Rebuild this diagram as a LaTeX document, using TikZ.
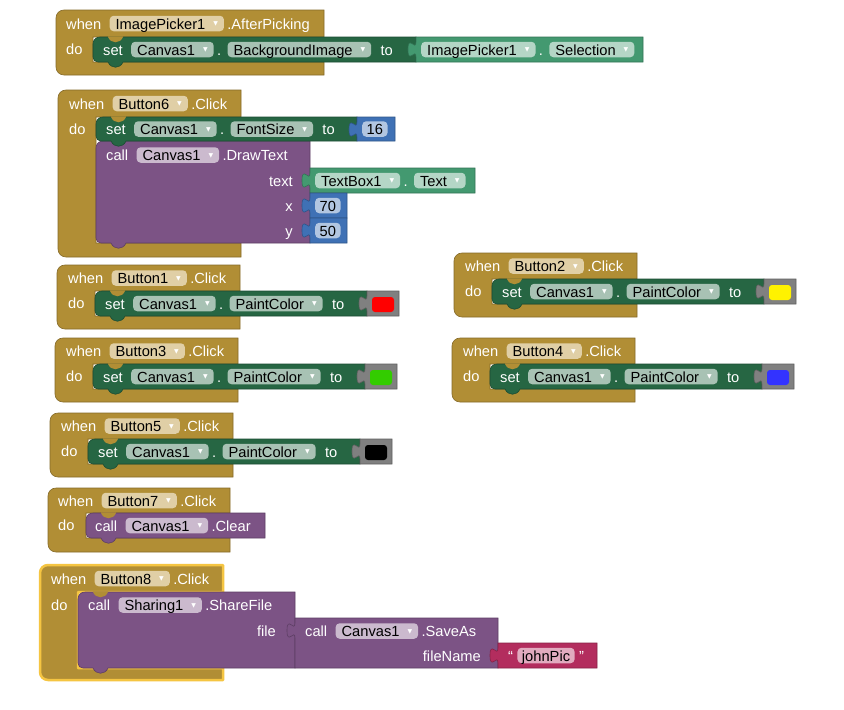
\documentclass[tikz,border=0pt]{standalone}
\usepackage{fontspec}
\setmainfont{Liberation Sans}
\newfontfamily\dejavu{DejaVu Sans}
\usetikzlibrary{positioning}
\definecolor{evc}{HTML}{B18E35}
\definecolor{evf}{HTML}{E0CFA6}
\definecolor{stc}{HTML}{266643}
\definecolor{stf}{HTML}{A8C2B4}
\definecolor{getc}{HTML}{439970}
\definecolor{getf}{HTML}{B4D6C6}
\definecolor{clc}{HTML}{7C5385}
\definecolor{clf}{HTML}{CBBACE}
\definecolor{mathc}{HTML}{3F71B5}
\definecolor{mathf}{HTML}{B2C6E1}
\definecolor{txc}{HTML}{B32D5E}
\definecolor{txf}{HTML}{E1ABBF}
\definecolor{colc}{HTML}{808080}
\definecolor{selc}{HTML}{F5C542}
\definecolor{swgreen}{HTML}{33CC00}
\definecolor{swblue}{HTML}{3333FF}
\newcommand\bfnt{\fontsize{14.67pt}{17pt}\selectfont}
\newcommand\ddarrow{\hspace{8pt}\raisebox{3.2pt}{\dejavu\fontsize{6pt}{6pt}\selectfont\textcolor{white}{▼}}\hspace{3pt}}
% event block: [extra] ex ey xr bt bb bot ix color
\newcommand\evshape[9][]{%
 \path[fill=#9,draw=#9!75!black,line width=0.6pt,#1] (#2,#3+8) .. controls (#2,#3+3.5) and (#2+3.5,#3) .. (#2+8,#3) -- (#4,#3) -- (#4,#5) -- (#8,#5) -- (#8,#6) -- (#4,#6) -- (#4,#7) -- (#2+8,#7) .. controls (#2+3.5,#7) and (#2,#7-3.5) .. (#2,#7-8) -- cycle;}
\newcommand\tabdown[3]{%
 \fill[#3] (#1+15,#2-0.7) -- (#1+15,#2) .. controls (#1+18,#2+7) and (#1+27,#2+7) .. (#1+30,#2) -- (#1+30,#2-0.7) -- cycle;}
% statement block: x y xr yb color
\newcommand\stshape[5]{%
 \path[fill=#5,draw=#5!75!black,line width=0.6pt] (#1,#2+7) .. controls (#1,#2+3) and (#1+3,#2) .. (#1+7,#2) -- (#3,#2) -- (#3,#4) -- (#1+30,#4) .. controls (#1+27,#4+7) and (#1+18,#4+7) .. (#1+15,#4) -- (#1+5,#4) .. controls (#1+2,#4) and (#1,#4-2) .. (#1,#4-5) -- cycle;}
% value block: x y xr yb color
\newcommand\valshape[5]{%
 \path[fill=#5,draw=#5!75!black,line width=0.6pt] (#1,#2) -- (#3,#2) -- (#3,#4) -- (#1,#4) -- (#1,#2+20) .. controls (#1,#2+10) and (#1-8,#2+28) .. (#1-8,#2+12.5) .. controls (#1-8,#2-3) and (#1,#2+15) .. (#1,#2+5) -- cycle;}
\tikzset{
 base/.style={inner sep=0pt, text height=11pt, text depth=0pt, anchor=west, font=\bfnt},
 lbl/.style={base, text=white},
 lble/.style={lbl, anchor=east},
 fld/.style={base, fill=#1, rounded corners=4pt, minimum height=15.5pt, inner xsep=6pt, text=black},
 numf/.style={fld=#1, inner xsep=4.5pt},
}
% paint colour event: ex ey button swatch prefix
\newcommand\paintev[5]{%
 \evshape{#1}{#2}{#1+183}{#2+26}{#2+51}{#2+64}{#1+38}{evc}
 \stshape{#1+38}{#2+26}{#1+310}{#2+51}{stc}
 \tabdown{#1+38}{#2+26}{evc}
 \valshape{#1+310}{#2+26}{#1+342}{#2+51}{colc}
 \fill[#4,rounded corners=3pt] (#1+315,#2+32) rectangle (#1+337,#2+47);
 \node[lbl] (#5w) at (#1+11,#2+13) {when};
 \node[lbl] (#5x) at (#1+11,#2+38) {do};
 \node[fld=evf, right=8pt of #5w] (#5b) {#3\ddarrow};
 \node[lbl, right=3pt of #5b] (#5c) {.Click};
 \node[lbl] (#5s) at (#1+48,#2+38.5) {set};
 \node[fld=stf, right=8pt of #5s] (#5o) {Canvas1\ddarrow};
 \node[lbl, right=3pt of #5o] (#5d) {.};
 \node[fld=stf, right=6pt of #5d] (#5p) {PaintColor\ddarrow};
 \node[lbl, right=9pt of #5p] (#5t) {to};
}
\begin{document}
\begin{tikzpicture}[x=1pt,y=-1pt]
\useasboundingbox (0,0) rectangle (844,710);
\fill[white] (0,0) rectangle (844,710);

% ---- ImagePicker1.AfterPicking
\evshape{56}{10}{324}{37}{62}{75}{93}{evc}
\stshape{93}{37}{416}{62}{stc}
\tabdown{93}{37}{evc}
\valshape{416}{37}{643}{62}{getc}
\node[lbl] (aw) at (66,23.5) {when};
\node[lbl] (ax) at (66,48.5) {do};
\node[fld=evf, right=8pt of aw] (ab) {ImagePicker1\ddarrow};
\node[lbl, right=3pt of ab] (ac) {.AfterPicking};
\node[lbl] (as) at (103,49.5) {set};
\node[fld=stf, right=8pt of as] (ao) {Canvas1\ddarrow};
\node[lbl, right=3pt of ao] (ad) {.};
\node[fld=stf, right=6pt of ad] (ap) {BackgroundImage\ddarrow};
\node[lbl, right=9pt of ap] (at) {to};
\node[fld=getf] (ag) at (421,49.5) {ImagePicker1\ddarrow};
\node[lbl, right=3pt of ag] (ae) {.};
\node[fld=getf, right=6pt of ae] (ah) {Selection\ddarrow};

% ---- Button6.Click
\evshape{58}{90}{241}{117}{243}{257}{96}{evc}
\stshape{96}{141}{310}{243}{clc}
\stshape{96}{117}{357}{141}{stc}
\tabdown{96}{117}{evc}
\valshape{357}{117}{395}{141}{mathc}
\valshape{310}{168}{475}{193}{getc}
\valshape{310}{193}{347}{218}{mathc}
\valshape{310}{218}{347}{243}{mathc}
\node[lbl] (bw) at (69,103.5) {when};
\node[lbl] (bx) at (69,128.5) {do};
\node[fld=evf, right=8pt of bw] (bb) {Button6\ddarrow};
\node[lbl, right=3pt of bb] (bc) {.Click};
\node[lbl] (bs) at (106,129) {set};
\node[fld=stf, right=8pt of bs] (bo) {Canvas1\ddarrow};
\node[lbl, right=3pt of bo] (bd) {.};
\node[fld=stf, right=6pt of bd] (bp) {FontSize\ddarrow};
\node[lbl, right=9pt of bp] (bt) {to};
\node[numf=mathf] (bn) at (362,129) {16};
\node[lbl] (bk) at (106,155) {call};
\node[fld=clf, right=8pt of bk] (bq) {Canvas1\ddarrow};
\node[lbl, right=3pt of bq] (br) {.DrawText};
\node[lble] (bx1) at (293,180.5) {text};
\node[fld=getf] (bg) at (315,180.5) {TextBox1\ddarrow};
\node[lbl, right=3pt of bg] (be) {.};
\node[fld=getf, right=6pt of be] (bh) {Text\ddarrow};
\node[lble] (bx2) at (293,205.5) {x};
\node[numf=mathf] (bn2) at (315,205.5) {70};
\node[lble] (bx3) at (293,230.5) {y};
\node[numf=mathf] (bn3) at (315,230.5) {50};

% ---- paint colour events
\paintev{57}{265}{Button1}{red}{c}
\paintev{454}{253}{Button2}{yellow}{e}
\paintev{55}{338}{Button3}{swgreen}{d}
\paintev{452}{338}{Button4}{swblue}{f}
\paintev{50}{413}{Button5}{black}{g}

% ---- Button7.Click
\evshape{48}{488}{230}{513}{538}{552}{86}{evc}
\stshape{86}{513}{265}{538}{clc}
\tabdown{86}{513}{evc}
\node[lbl] (hw) at (58,500.5) {when};
\node[lbl] (hx) at (58,525) {do};
\node[fld=evf, right=8pt of hw] (hb) {Button7\ddarrow};
\node[lbl, right=3pt of hb] (hc) {.Click};
\node[lbl] (hk) at (95,525.5) {call};
\node[fld=clf, right=8pt of hk] (hq) {Canvas1\ddarrow};
\node[lbl, right=3pt of hq] (hr) {.Clear};

% ---- Button8.Click (selected)
\evshape[draw=selc,line width=2.5pt,line join=round]{40}{565}{223}{592}{668}{680}{78}{evc}
\stshape{78}{592}{295}{668}{clc}
\tabdown{78}{592}{evc}
\valshape{295}{618}{498}{668}{clc}
\valshape{498}{643}{597}{668}{txc}
\node[lbl] (iw) at (51,578.5) {when};
\node[lbl] (ix) at (51,604.5) {do};
\node[fld=evf, right=8pt of iw] (ib) {Button8\ddarrow};
\node[lbl, right=3pt of ib] (ic) {.Click};
\node[lbl] (ik) at (88,605) {call};
\node[fld=clf, right=8pt of ik] (iq) {Sharing1\ddarrow};
\node[lbl, right=3pt of iq] (ir) {.ShareFile};
\node[lble] (ix1) at (276,631) {file};
\node[lbl] (ik2) at (305,631) {call};
\node[fld=clf, right=8pt of ik2] (iq2) {Canvas1\ddarrow};
\node[lbl, right=3pt of iq2] (ir2) {.SaveAs};
\node[lble] (ix2) at (481,655.5) {fileName};
\node[lbl] (iqo) at (508,655.5) {“};
\node[numf=txf, right=4pt of iqo] (it) {johnPic};
\node[lbl, right=4pt of it] (iqc) {”};
\end{tikzpicture}
\end{document}
